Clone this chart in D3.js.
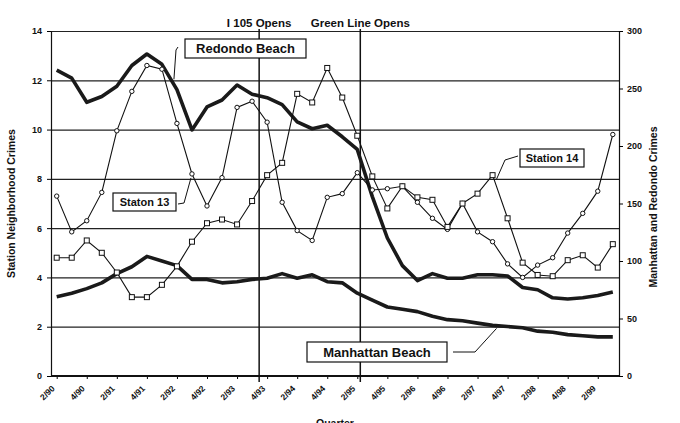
<!DOCTYPE html>
<html>
<head>
<meta charset="utf-8">
<script src="https://cdn.jsdelivr.net/npm/d3@7"></script>
<style>
  body { margin: 0; background: #fff; }
  text { font-family: "Liberation Sans", Arial, sans-serif; font-weight: bold; fill: #111; }
</style>
</head>
<body>
<svg width="680" height="423"></svg>
<script>
  /* Station neighborhood crimes vs Manhattan / Redondo crimes, by quarter
   * thin lines  -> left axis (station counts)
   * thick lines -> right axis (city counts)
   */

var quarterLabels = ['2/90','4/90','2/91','4/91','2/92','4/92','2/93','4/93','2/94','4/94',
                     '2/95','4/95','2/96','4/96','2/97','4/97','2/98','4/98','2/99']

var station13 = [7.3, 5.85, 6.3, 7.45, 9.95, 11.55, 12.6, 12.45, 10.25, 8.2,
                 6.9, 8.05, 10.9, 11.15, 10.3, 7.05, 5.9, 5.5, 7.25, 7.4,
                 8.25, 7.55, 7.6, 7.7, 7.05, 6.4, 5.95, 7.0, 5.85, 5.45,
                 4.55, 4.0, 4.5, 4.8, 5.8, 6.6, 7.5, 9.8]

var station14 = [4.8, 4.8, 5.5, 5.0, 4.2, 3.2, 3.2, 3.7, 4.45, 5.45,
                 6.2, 6.35, 6.15, 7.1, 8.15, 8.65, 11.45, 11.1, 12.5, 11.3,
                 9.75, 8.1, 6.8, 7.7, 7.25, 7.15, 6.05, 7.0, 7.4, 8.15,
                 6.4, 4.6, 4.1, 4.05, 4.7, 4.9, 4.4, 5.35]

var redondo = [266, 259, 238, 243, 252, 270, 280, 271, 249, 214,
               234, 240, 253, 245, 242, 236, 221, 215, 218, 208,
               197, 156, 120, 96, 83, 89, 85, 85, 88, 88,
               87, 77, 75, 68, 67, 68, 70, 73]

var manhattan = [69, 72, 76, 81, 89, 95, 104, 100, 96, 84,
                 84, 81, 82, 84, 85, 89, 85, 88, 82, 81,
                 72, 66, 60, 58, 56, 52, 49, 48, 46, 44,
                 43, 42, 39, 38, 36, 35, 34, 34]

var events = [{ label: 'I 105 Opens', q: 13.47 }, { label: 'Green Line Opens', q: 20.2 }]

var plotL = 51, plotR = 619, plotT = 31, plotB = 376

var svg = d3.select('svg')

var x = d3.scaleLinear().domain([0, station13.length - 1]).range([56.7, 612.8])
var yL = d3.scaleLinear().domain([0, 14]).range([plotB, plotT])
var yR = d3.scaleLinear().domain([0, 300]).range([plotB, plotT])

// grid
svg.append('g')
    .attr('transform', `translate(${plotL},0)`)
    .call(d3.axisLeft(yL).tickValues(d3.range(2, 15, 2)).tickSize(-(plotR - plotL)).tickFormat(''))
    .call(g => g.select('.domain').remove())
    .selectAll('line').attr('stroke', '#222').attr('stroke-width', 1.2)

// axes
svg.append('g')
    .attr('transform', `translate(${plotL},0)`)
    .call(d3.axisLeft(yL).tickValues(d3.range(0, 15, 2)).tickSize(4).tickPadding(5))
    .attr('font-size', 9)

svg.append('g')
    .attr('transform', `translate(${plotR},0)`)
    .call(d3.axisRight(yR).tickValues(d3.range(0, 301, 50)).tickSize(4).tickPadding(4))
    .attr('font-size', 9)

var xAxis = svg.append('g')
    .attr('transform', `translate(0,${plotB})`)
    .call(d3.axisBottom(x).tickValues(d3.range(0, 37, 2)).tickSize(3).tickFormat((d, i) => quarterLabels[i]))
    .attr('font-size', 8.5)
xAxis.select('.domain').remove()
xAxis.selectAll('text')
    .attr('x', 0).attr('y', 0).attr('dy', '0.35em')
    .attr('text-anchor', 'end')
    .attr('transform', 'translate(-4,11) rotate(-45)')

svg.append('line')
    .attr('x1', plotL).attr('x2', plotR).attr('y1', plotB).attr('y2', plotB)
    .attr('stroke', '#111').attr('stroke-width', 2)

svg.selectAll('.domain').attr('stroke', '#111').attr('stroke-width', 1.2)

// axis titles
svg.append('text')
    .attr('transform', `translate(15,${(plotT + plotB) / 2}) rotate(-90)`)
    .attr('text-anchor', 'middle').attr('font-size', 10.5)
    .text('Station Neighborhood Crimes')

svg.append('text')
    .attr('transform', `translate(657,207) rotate(-90)`)
    .attr('text-anchor', 'middle').attr('font-size', 10.5)
    .text('Manhattan and Redondo Crimes')

svg.append('text')
    .attr('x', (plotL + plotR) / 2).attr('y', 427)
    .attr('text-anchor', 'middle').attr('font-size', 10.5)
    .text('Quarter')

// event lines
events.forEach((e) => {
  svg.append('line')
      .attr('x1', x(e.q)).attr('x2', x(e.q))
      .attr('y1', 29).attr('y2', plotB + 6)
      .attr('stroke', '#111').attr('stroke-width', 1.5)
  svg.append('text')
      .attr('x', x(e.q)).attr('y', 27)
      .attr('text-anchor', 'middle').attr('font-size', 11.5)
      .text(e.label)
})

// thick city lines
var thick = d3.line().x((d, i) => x(i)).y((d) => yR(d))
;[redondo, manhattan].forEach((s) => {
  svg.append('path')
      .attr('d', thick(s))
      .attr('fill', 'none').attr('stroke', '#1a1a1a')
      .attr('stroke-width', 3.6).attr('stroke-linejoin', 'round')
})

// thin station lines
var thin = d3.line().x((d, i) => x(i)).y((d) => yL(d))
;[station13, station14].forEach((s) => {
  svg.append('path')
      .attr('d', thin(s))
      .attr('fill', 'none').attr('stroke', '#111').attr('stroke-width', 1.1)
})

svg.append('g').selectAll('circle')
  .data(station13)
  .enter().append('circle')
    .attr('cx', (d, i) => x(i)).attr('cy', (d) => yL(d)).attr('r', 2.2)
    .attr('fill', '#fff').attr('stroke', '#111').attr('stroke-width', 1)

svg.append('g').selectAll('rect')
  .data(station14)
  .enter().append('rect')
    .attr('x', (d, i) => x(i) - 2.5).attr('y', (d) => yL(d) - 2.5)
    .attr('width', 5).attr('height', 5)
    .attr('fill', '#fff').attr('stroke', '#111').attr('stroke-width', 1)

// callouts
var callouts = [
  { text: 'Redondo Beach', box: [185, 39, 121, 19], path: [[178, 47], [176, 50], [x(7.8), yR(258)]] },
  { text: 'Staton 13', box: [113, 193, 63, 18], path: [[178, 204], [184, 203], [x(9) - 1, yL(8.2) + 4]] },
  { text: 'Station 14', box: [520, 149, 64, 18], path: [[518, 156], [505, 160], [x(29) + 4, yL(8.15) + 4]] },
  { text: 'Manhattan Beach', box: [307, 342, 140, 20], path: [[453, 352], [475, 352], [x(29) + 4, yR(44) + 3]] }
]

callouts.forEach((c) => {
  svg.append('path')
      .attr('d', d3.line()(c.path))
      .attr('fill', 'none').attr('stroke', '#111').attr('stroke-width', 1)
  svg.append('rect')
      .attr('x', c.box[0]).attr('y', c.box[1]).attr('width', c.box[2]).attr('height', c.box[3])
      .attr('fill', '#fff').attr('stroke', '#111').attr('stroke-width', 1.2)
  svg.append('text')
      .attr('x', c.box[0] + c.box[2] / 2).attr('y', c.box[1] + c.box[3] / 2)
      .attr('dy', '0.36em').attr('text-anchor', 'middle')
      .attr('font-size', c.text === 'Staton 13' || c.text === 'Station 14' ? 11 : 13)
      .text(c.text)
})
</script>
</body>
</html>
